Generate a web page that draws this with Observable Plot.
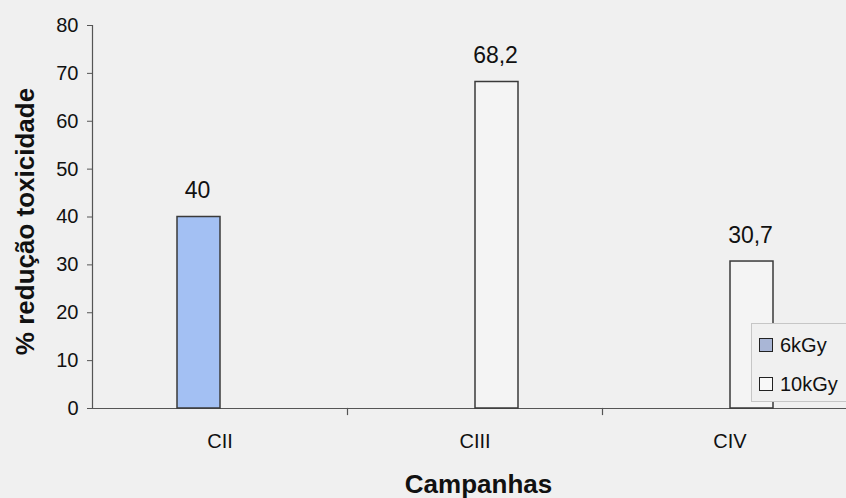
<!DOCTYPE html>
<html>
<head>
<meta charset="utf-8">
<script src="https://cdn.jsdelivr.net/npm/d3@7"></script>
<script src="https://cdn.jsdelivr.net/npm/@observablehq/plot@0.6"></script>
<style>
  html, body { margin: 0; padding: 0; background: #f0f0f0; overflow: hidden; }
  #wrap { position: relative; width: 846px; height: 498px; overflow: hidden; font-family: "Liberation Sans", Arial, sans-serif; }
  #legend { position: absolute; left: 751px; top: 323px; width: 130px; height: 79px; box-sizing: border-box;
            background: #f0f0f0; border: 1px solid #c6c6c6; }
  .item { position: absolute; left: 7px; font-size: 20px; color: #111; line-height: 1; }
  .sw { position: absolute; left: 0; top: 1px; width: 12px; height: 12px; border: 1.5px solid #222; box-sizing: content-box; }
  .lab { position: absolute; left: 21px; top: -2px; white-space: nowrap; }
</style>
</head>
<body>
<div id="wrap"></div>
<script>
const campanhas = ["CII", "CIII", "CIV"];
const series = ["6kGy", "10kGy"];
const valores6kGy = [40, null, null];
const valores10kGy = [null, 68.2, 30.7];
const yTicks = [0, 10, 20, 30, 40, 50, 60, 70, 80];
const cores = ["#a3c0f3", "#f4f4f4"];
const yTitulo = "% redução toxicidade";
const xTitulo = "Campanhas";

const rows = campanhas.flatMap((c, i) => [
  {campanha: c, serie: series[0], valor: valores6kGy[i]},
  {campanha: c, serie: series[1], valor: valores10kGy[i]}
]).filter(d => d.valor != null);

const fmt = v => String(v).replace(".", ",");
const font = "Liberation Sans, Arial, sans-serif";

const chart = Plot.plot({
  width: 846,
  height: 498,
  marginLeft: 92,
  marginRight: 0,
  marginTop: 25,
  marginBottom: 90,
  style: {background: "#f0f0f0", fontFamily: font, color: "#111", overflow: "visible"},
  fx: {domain: campanhas, range: [92, 857], padding: 0},
  x: {domain: series, paddingInner: 0, paddingOuter: 1.93, axis: null},
  y: {domain: [0, 80]},
  color: {domain: series, range: cores},
  marks: [
    Plot.frame({anchor: "left", stroke: "#555", strokeWidth: 1.2, facetAnchor: "left"}),
    Plot.ruleY([0], {stroke: "#555", strokeWidth: 1.2}),
    Plot.frame({anchor: "right", insetTop: 383, insetBottom: -6, stroke: "#555", strokeWidth: 1.2}),
    Plot.barY(rows, {fx: "campanha", x: "serie", y: "valor", fill: "serie", stroke: "#3a3a3a", strokeWidth: 1.5}),
    Plot.text(rows, {fx: "campanha", x: "serie", y: "valor", text: d => fmt(d.valor),
      lineAnchor: "bottom", dy: -19, dx: -1.5, fontSize: 23, fill: "#111"}),
    Plot.axisY({ticks: yTicks, tickSize: 5, tickPadding: 9, fontSize: 20, label: null, stroke: "#555"}),
    Plot.axisFx({anchor: "bottom", tickSize: 0, tickPadding: 25, fontSize: 20, label: null}),
    Plot.text([yTitulo], {frameAnchor: "left", rotate: -90, dx: -67, dy: 4.5, fontSize: 26,
      fontWeight: "bold", textAnchor: "middle", lineAnchor: "middle", facetAnchor: "left", fill: "#111"}),
    Plot.text([xTitulo], {fx: () => campanhas[1], frameAnchor: "bottom", dx: 3.5, dy: 84, fontSize: 26,
      fontWeight: "bold", textAnchor: "middle", lineAnchor: "bottom", fill: "#111"})
  ]
});

const wrap = document.getElementById("wrap");
wrap.appendChild(chart);

const legend = document.createElement("div");
legend.id = "legend";
series.forEach((s, i) => {
  const item = document.createElement("div");
  item.className = "item";
  item.style.top = (13 + i * 39) + "px";
  const sw = document.createElement("span");
  sw.className = "sw";
  sw.style.background = i === 0 ? "#a9b6d6" : "#f8f8f8";
  const lab = document.createElement("span");
  lab.className = "lab";
  lab.textContent = s;
  item.appendChild(sw);
  item.appendChild(lab);
  legend.appendChild(item);
});
wrap.appendChild(legend);
</script>
</body>
</html>
